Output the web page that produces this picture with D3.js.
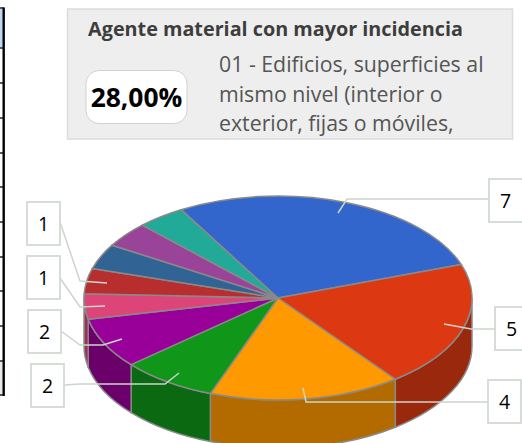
<!DOCTYPE html>
<html><head><meta charset="utf-8">
<script src="https://cdnjs.cloudflare.com/ajax/libs/d3/7.8.5/d3.min.js"></script>
<style>html,body{margin:0;padding:0;background:#fff;overflow:hidden}svg{display:block}</style>
</head><body><svg id="c" width="522" height="443"></svg>
<script>
const labels = ["7","5","4","2","2","1","1","1","1","1"];
const values = [7,5,4,2,2,1,1,1,1,1];
const colors = ["#3366cc","#dc3912","#ff9900","#109618","#990099","#dd4477","#b82e2e","#316395","#994499","#22aa99"];
const sideColors = ["#24478f","#9a280d","#b36b00","#0b6911","#6b006b","#9b3053","#812020","#224568","#6b306b","#18776b"];
const title = "Agente material con mayor incidencia";
const pctText = "28,00%";
const descLines = ["01 - Edificios, superficies al","mismo nivel (interior o","exterior, fijas o móviles,"];
const calloutText = ["7","5","4","2","2","1","1"];
const calloutBoxes = [[489,179],[495,307],[488,380],[31,364],[28,310],[27,256],[27,202]];
const calloutPaths = [
  [[338,213],[347,199],[489,199]],
  [[444,324],[471,329],[495,329]],
  [[303,388],[306,402],[488,402]],
  [[179,373],[165,384],[80,384],[64,385]],
  [[122,339],[103,345],[80,345],[61,331]],
  [[105,306],[80,307],[60,278]],
  [[107,283],[80,281],[60,222]]
];
const tableRows = [8,48,83,118,153,187,222,257,291,326,361,395];

const svg = d3.select("#c"), F = "'Open Sans','Noto Sans',sans-serif";
const cx=278, cy=298, rx=194, ry=102, depth=48;
const sx=d3.scaleLinear().domain([-1,1]).range([cx-rx,cx+rx]);
const sy=d3.scaleLinear().domain([-1,1]).range([cy-ry,cy+ry]);
const px=a=>sx(Math.sin(a)), py=a=>sy(-Math.cos(a));
const pie=d3.pie().sort(null).startAngle(-30*Math.PI/180).endAngle(330*Math.PI/180);
const arcs=pie(values);

// table fragment at the left edge
svg.append("rect").attr("x",0).attr("y",9).attr("width",3).attr("height",38).attr("fill","#bcd8f2");
svg.append("rect").attr("x",0).attr("y",362).attr("width",3).attr("height",33).attr("fill","#e8e8e8");
svg.selectAll("line.r").data(tableRows).join("line").attr("class","r").attr("x1",0).attr("x2",4).attr("y1",d=>d).attr("y2",d=>d).attr("stroke","#000").attr("stroke-width",1.3);
svg.append("line").attr("x1",3.7).attr("x2",3.7).attr("y1",7.5).attr("y2",396).attr("stroke","#000").attr("stroke-width",2.4);

// info panel
svg.append("rect").attr("x",67.5).attr("y",9).attr("width",445).attr("height",130).attr("fill","#eeeeee").attr("stroke","#dcdcdc").attr("stroke-width",1.5);
svg.append("text").attr("x",275.5).attr("y",36).attr("text-anchor","middle").attr("font-family",F).attr("font-size",19.8).attr("font-weight",700).attr("fill","#3d3d3d").text(title);
svg.append("rect").attr("x",86).attr("y",70.5).attr("width",101).attr("height",53).attr("rx",13).attr("fill","#fff").attr("stroke","#d2d2d2");
svg.append("text").attr("x",136.5).attr("y",107).attr("text-anchor","middle").attr("font-family",F).attr("font-size",26.4).attr("font-weight",700).attr("fill","#000").text(pctText);
svg.selectAll("text.d").data(descLines).join("text").attr("class","d").attr("x",219).attr("y",(d,i)=>72+i*29.5).attr("font-family",F).attr("font-size",21.3).attr("fill","#555").text(d=>d);

// pie sides
const lo=Math.PI/2, hi=Math.PI*1.5;
const ell=`A${rx},${ry} 0 0 `;
arcs.forEach((d,i)=>{
  const a0=Math.max(d.startAngle,lo), a1=Math.min(d.endAngle,hi);
  if(a0>=a1) return;
  svg.append("path").attr("d",`M${px(a0)},${py(a0)}${ell}1 ${px(a1)},${py(a1)}L${px(a1)},${py(a1)+depth}${ell}0 ${px(a0)},${py(a0)+depth}Z`)
    .attr("fill",sideColors[i]).attr("stroke","#8a8a8a").attr("stroke-width",1.5).attr("stroke-linejoin","round");
});
// pie top
svg.selectAll("path.s").data(arcs).join("path").attr("class","s")
  .attr("d",d=>`M${cx},${cy}L${px(d.startAngle)},${py(d.startAngle)}${ell}1 ${px(d.endAngle)},${py(d.endAngle)}Z`)
  .attr("fill",(d,i)=>colors[i]).attr("stroke","#8a8a8a").attr("stroke-width",1.5).attr("stroke-linejoin","round");

// callouts
const BW=33, BH=43;
calloutText.forEach((t,i)=>{
  const [bx,by]=calloutBoxes[i];
  svg.append("polyline").attr("points",calloutPaths[i].map(p=>p.join(",")).join(" "))
    .attr("fill","none").attr("stroke","#ccd5cc").attr("stroke-width",1.5);
  svg.append("rect").attr("x",bx).attr("y",by).attr("width",BW+(i==0?4:0)).attr("height",BH).attr("fill","#fff").attr("stroke","#d2dad2").attr("stroke-width",1.8);
  svg.append("text").attr("x",bx+BW/2).attr("y",by+BH/2+7).attr("text-anchor","middle").attr("font-family",F).attr("font-size",19.5).attr("fill","#000").text(t);
});
</script></body></html>
